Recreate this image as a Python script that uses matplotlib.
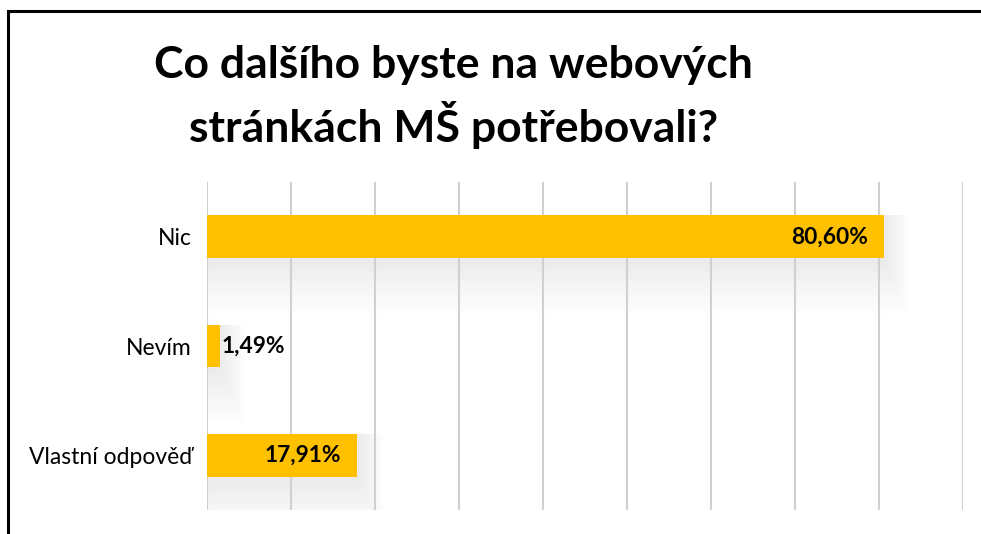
import matplotlib.pyplot as plt
from matplotlib.patches import Rectangle

# data
categories = ["Nic", "Nevím", "Vlastní odpověď"]
values = [80.60, 1.49, 17.91]
labels = ["80,60%", "1,49%", "17,91%"]
title_lines = ["Co dalšího byste na webových", "stránkách MŠ potřebovali?"]

plt.rcParams['font.family'] = ['Lato', 'DejaVu Sans']

fig = plt.figure(figsize=(9.81, 5.34), dpi=100)
ax = fig.add_axes([0.211, 0.045, 0.7707, 0.614])

ypos = list(range(len(categories)))
bar_h = 0.39

# soft shadows under the bars
for y, v in zip(ypos, values):
    for k in range(1, 11):
        ax.barh(y + 0.025 * k, v + 0.3 * k, height=bar_h + 0.05 * k,
                color='#000000', alpha=0.009, zorder=1, linewidth=0)

ax.barh(ypos, values, height=bar_h, color='#FFC000', zorder=3)

for y, v, lab in zip(ypos, values, labels):
    if v > 10:
        ax.text(v - 1.9, y, lab, ha='right', va='center', fontsize=16.4,
                fontweight='bold', color='black', zorder=4)
    else:
        ax.text(v + 0.3, y, lab, ha='left', va='center', fontsize=16.4,
                fontweight='bold', color='black', zorder=4)

ax.set_xlim(0, 90)
ax.set_ylim(2.5, -0.5)
ax.set_xticks(range(0, 91, 10))
ax.set_xticklabels([])
ax.grid(axis='x', color='#d0d0d0', linewidth=1.5, zorder=0)
ax.set_yticks(ypos)
ax.set_yticklabels(categories, fontsize=16.5)
ax.tick_params(length=0, pad=11)
for s in ax.spines.values():
    s.set_visible(False)

fig.text(0.462, 1 - 65 / 534, title_lines[0], ha='center', va='center',
         fontsize=32, fontweight='bold')
fig.text(0.462, 1 - 125 / 534, title_lines[1], ha='center', va='center',
         fontsize=32, fontweight='bold')

# outer border of the chart area
fig.add_artist(Rectangle((0.008, -0.1), 1.1, 1.079, transform=fig.transFigure,
                         fill=False, edgecolor='black', linewidth=2.2))

fig.savefig("out.png", dpi=100)
